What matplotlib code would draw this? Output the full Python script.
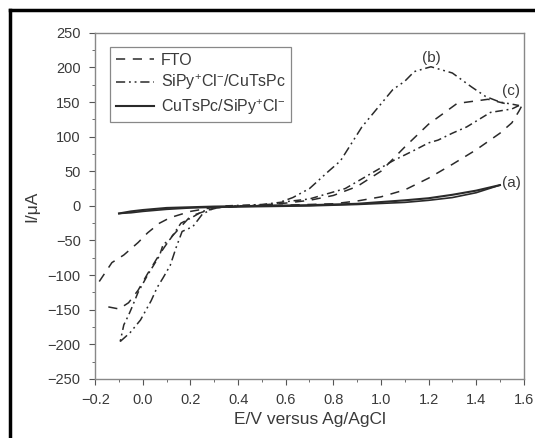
import numpy as np
import matplotlib
matplotlib.use('Agg')
import matplotlib.pyplot as plt
from matplotlib.lines import Line2D

plt.rcParams['font.family'] = ['Liberation Sans', 'DejaVu Sans']
plt.rcParams['mathtext.fontset'] = 'custom'
plt.rcParams['mathtext.rm'] = 'Liberation Sans'
plt.rcParams['mathtext.it'] = 'Liberation Sans'

# FTO (dashed)
fto_E = [-0.22, -0.2, -0.13, -0.08, -0.02, 0.02, 0.07, 0.115, 0.2, 0.3, 0.45, 0.6, 0.8, 0.9, 1.0,
         1.1, 1.2, 1.3, 1.4, 1.5, 1.55, 1.58, 1.6, 1.62]
fto_I = [-130, -118, -82, -71, -53, -39, -25, -17, -8, -2, 0, 1, 3, 7, 13,
         23, 40, 60, 81, 105, 120, 137, 150, 162]

# SiPy+Cl-/CuTsPc (dash-dot-dot), forward branch with the peak (b)
sipy_fwd_E = [-0.095, -0.053, -0.01, 0.035, 0.06, 0.085, 0.115, 0.14, 0.165, 0.21, 0.25, 0.3, 0.4, 0.5,
              0.55, 0.63, 0.7, 0.78, 0.83, 0.92, 1.05, 1.1, 1.14, 1.21, 1.3, 1.38, 1.44, 1.5, 1.55, 1.58]
sipy_fwd_I = [-196, -183, -165, -137, -118, -104, -86, -60, -37, -30, -12, -3, 0, 1,
              2, 12, 25, 50, 65, 114, 168, 180, 194, 201, 192, 172, 158, 150, 147, 145]
# reverse branch
sipy_rev_E = [1.58, 1.55, 1.46, 1.36, 1.3, 1.24, 1.2, 1.15, 1.05, 0.95, 0.85, 0.7, 0.5, 0.35, 0.25,
              0.2, 0.16, 0.115, 0.085, 0.07, 0.02, -0.02, -0.045, -0.06, -0.08, -0.095]
sipy_rev_I = [145, 140, 135, 114, 105, 95, 91, 82, 65, 45, 25, 10, 2, 0, -8,
              -18, -25, -48, -56, -72, -100, -125, -146, -158, -172, -196]

# curve (c)
c_E = [-0.145, -0.1, -0.06, -0.02, 0.02, 0.07, 0.12, 0.2, 0.3, 0.45, 0.6, 0.7, 0.8, 0.9, 1.0,
       1.1, 1.2, 1.32, 1.45, 1.52]
c_I = [-146, -149, -140, -122, -98, -70, -45, -15, -3, 0, 4, 8, 15, 28, 50,
       85, 118, 148, 154, 148]

# CuTsPc/SiPy+Cl- (solid)
cu_fwd_E = [-0.1, -0.05, 0.0, 0.1, 0.2, 0.3, 0.5, 0.7, 0.9, 1.1, 1.2, 1.3, 1.4, 1.5]
cu_fwd_I = [-11, -8, -6, -3, -2, -1, 0, 1, 3, 8, 11, 16, 22, 30]
cu_rev_E = [1.5, 1.4, 1.3, 1.2, 1.1, 0.9, 0.7, 0.5, 0.3, 0.2, 0.1, 0.0, -0.05, -0.1]
cu_rev_I = [30, 19, 12, 8, 5, 2, 0, -1, -2, -3, -5, -8, -10, -11]

fig = plt.figure(figsize=(5.35, 4.38), dpi=100)
ax = fig.add_axes([0.178, 0.135, 0.801, 0.79])

ink = '#2a2a2a'
txt = '#3a3a3a'
dash = (0, (6, 5))
ddot = (0, (6, 2.5, 1.2, 2.5, 1.2, 2.5))

ax.plot(fto_E, fto_I, color=ink, lw=1.1, linestyle=dash, label='FTO')
ax.plot(sipy_fwd_E, sipy_fwd_I, color=ink, lw=1.1, linestyle=ddot,
        label=r'SiPy$^{+}$Cl$^{-}$/CuTsPc')
ax.plot(sipy_rev_E, sipy_rev_I, color=ink, lw=1.1, linestyle=(0, (5, 2.5, 1.2, 2.5)))
ax.plot(c_E, c_I, color=ink, lw=1.1, linestyle=dash)
ax.plot(cu_fwd_E, cu_fwd_I, color=ink, lw=1.5, label=r'CuTsPc/SiPy$^{+}$Cl$^{-}$')
ax.plot(cu_rev_E, cu_rev_I, color=ink, lw=1.2)

ax.text(1.51, 33, '(a)', fontsize=11, color=txt, va='center', ha='left')
ax.text(1.21, 214, '(b)', fontsize=11, color=txt, va='center', ha='center')
ax.text(1.546, 166, '(c)', fontsize=11, color=txt, va='center', ha='center')

ax.set_xlim(-0.2, 1.6)
ax.set_ylim(-250, 250)
ax.set_xticks(np.arange(-0.2, 1.61, 0.2))
ax.set_xticklabels(['\u22120.2', '0.0', '0.2', '0.4', '0.6', '0.8', '1.0', '1.2', '1.4', '1.6'])
ax.set_xticks(np.arange(-0.1, 1.6, 0.2), minor=True)
ax.set_yticks(np.arange(-250, 251, 50))
ax.set_yticklabels([('\u2212' + str(-v)) if v < 0 else str(v) for v in range(-250, 251, 50)])
ax.set_yticks(np.arange(-225, 250, 50), minor=True)
ax.tick_params(which='both', direction='out', colors='#555', labelcolor=txt, labelsize=10.5,
               top=False, right=False)
ax.tick_params(which='major', length=4.5, width=0.8, pad=6)
ax.tick_params(which='minor', length=2.5, width=0.6)
for s in ax.spines.values():
    s.set_color('#888')
    s.set_linewidth(1.0)

ax.set_xlabel('E/V versus Ag/AgCl', fontsize=12.5, color=txt, labelpad=3)
ax.set_ylabel('I/\u03bcA', fontsize=12.5, color=txt, labelpad=6)

leg = ax.legend(loc='upper left', bbox_to_anchor=(0.035, 0.958), fontsize=11.5, handlelength=2.4,
                handletextpad=0.4, labelspacing=0.3, borderpad=0.35, borderaxespad=0,
                fancybox=False, framealpha=1, edgecolor='#888')
leg.get_frame().set_linewidth(0.9)
for t in leg.get_texts():
    t.set_color(txt)

# outer black frame, only its top and left edges fall inside the picture
fig.add_artist(Line2D([10 / 535, 10 / 535], [0, 1 - 10 / 438], transform=fig.transFigure,
                      color='black', lw=2.5, solid_capstyle='projecting'))
fig.add_artist(Line2D([10 / 535, 1], [1 - 10 / 438, 1 - 10 / 438], transform=fig.transFigure,
                      color='black', lw=2.5, solid_capstyle='projecting'))

fig.savefig('out.png', dpi=100)
